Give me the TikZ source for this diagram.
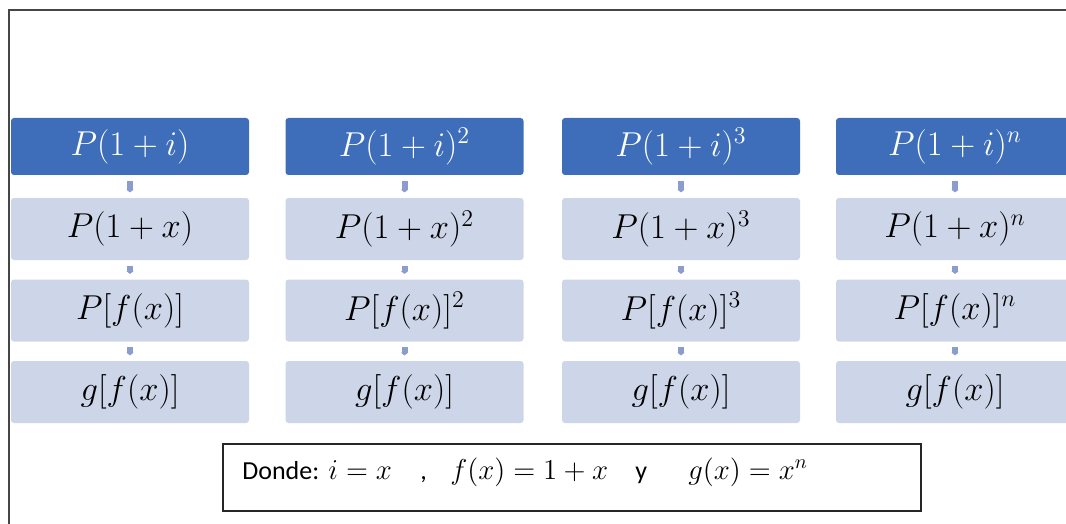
\documentclass[tikz,border=0pt]{standalone}
\usepackage{fontspec}
\newfontfamily\carlito{Carlito}
\usetikzlibrary{arrows.meta}
\definecolor{darkblue}{RGB}{62,110,186}
\definecolor{lightblue}{RGB}{205,213,232}
\definecolor{arrowblue}{RGB}{138,157,205}
\definecolor{framegray}{RGB}{70,70,70}
\begin{document}
\begin{tikzpicture}[x=0.5pt,y=-0.5pt,
  boxfont/.style={font=\fontsize{16.5}{19}\selectfont},
  topbox/.style={rectangle, rounded corners=1.5pt, fill=darkblue, text=white,
    minimum width=119pt, minimum height=28.5pt, inner sep=0pt, boxfont},
  subbox/.style={rectangle, rounded corners=1.5pt, fill=lightblue, text=black,
    minimum width=119pt, minimum height=31pt, inner sep=0pt, boxfont},
  link/.style={-{Triangle[width=3.6pt,length=1.4pt]}, draw=arrowblue, line width=3pt,
    shorten <=2.6pt, shorten >=2.6pt},
  notebox/.style={draw=black!85, line width=1pt, rectangle,
    minimum width=349pt, minimum height=33.5pt, inner sep=0pt},
  notetext/.style={inner sep=0pt, anchor=base west, font=\carlito\fontsize{13}{15}\selectfont},
  notemath/.style={}]
\useasboundingbox (0,0) rectangle (1066,524);
\clip (0,0) rectangle (1066,524);
% frame
\draw[framegray, line width=1pt] (9,540) -- (9,10) -- (1080,10);

% columns
\foreach \c/\cx/\ea/\eb in {1/130/{}/{}, 2/404.5/{^2}/{^2}, 3/681/{^3}/{^3}, 4/955/{^n}/{^n}} {
  \node[topbox] (t\c) at (\cx,146.5) {$P(1+i)\ea$};
  \node[subbox] (a\c) at (\cx,229) {$P(1+x)\eb$};
  \node[subbox] (b\c) at (\cx,310.5) {$P[f(x)]\eb$};
  \node[subbox] (g\c) at (\cx,392) {$g[f(x)]$};
  \draw[link] (t\c.south) -- (a\c.north);
  \draw[link] (a\c.south) -- (b\c.north);
  \draw[link] (b\c.south) -- (g\c.north);
}

% note
\node[notebox] (note) at (571.5,477.5) {};
\node[notetext] (notetxt) at (242,479) {%
  \makebox[43pt][l]{Donde:}%
  \makebox[46pt][l]{\fontsize{14}{16}\selectfont$i = x$}%
  \makebox[15pt][l]{,}%
  \makebox[92.5pt][l]{\fontsize{14}{16}\selectfont$f(x) = 1 + x$}%
  \makebox[26.5pt][l]{y}%
  {\fontsize{14}{16}\selectfont$g(x) = x^n$}};
\end{tikzpicture}
\end{document}
